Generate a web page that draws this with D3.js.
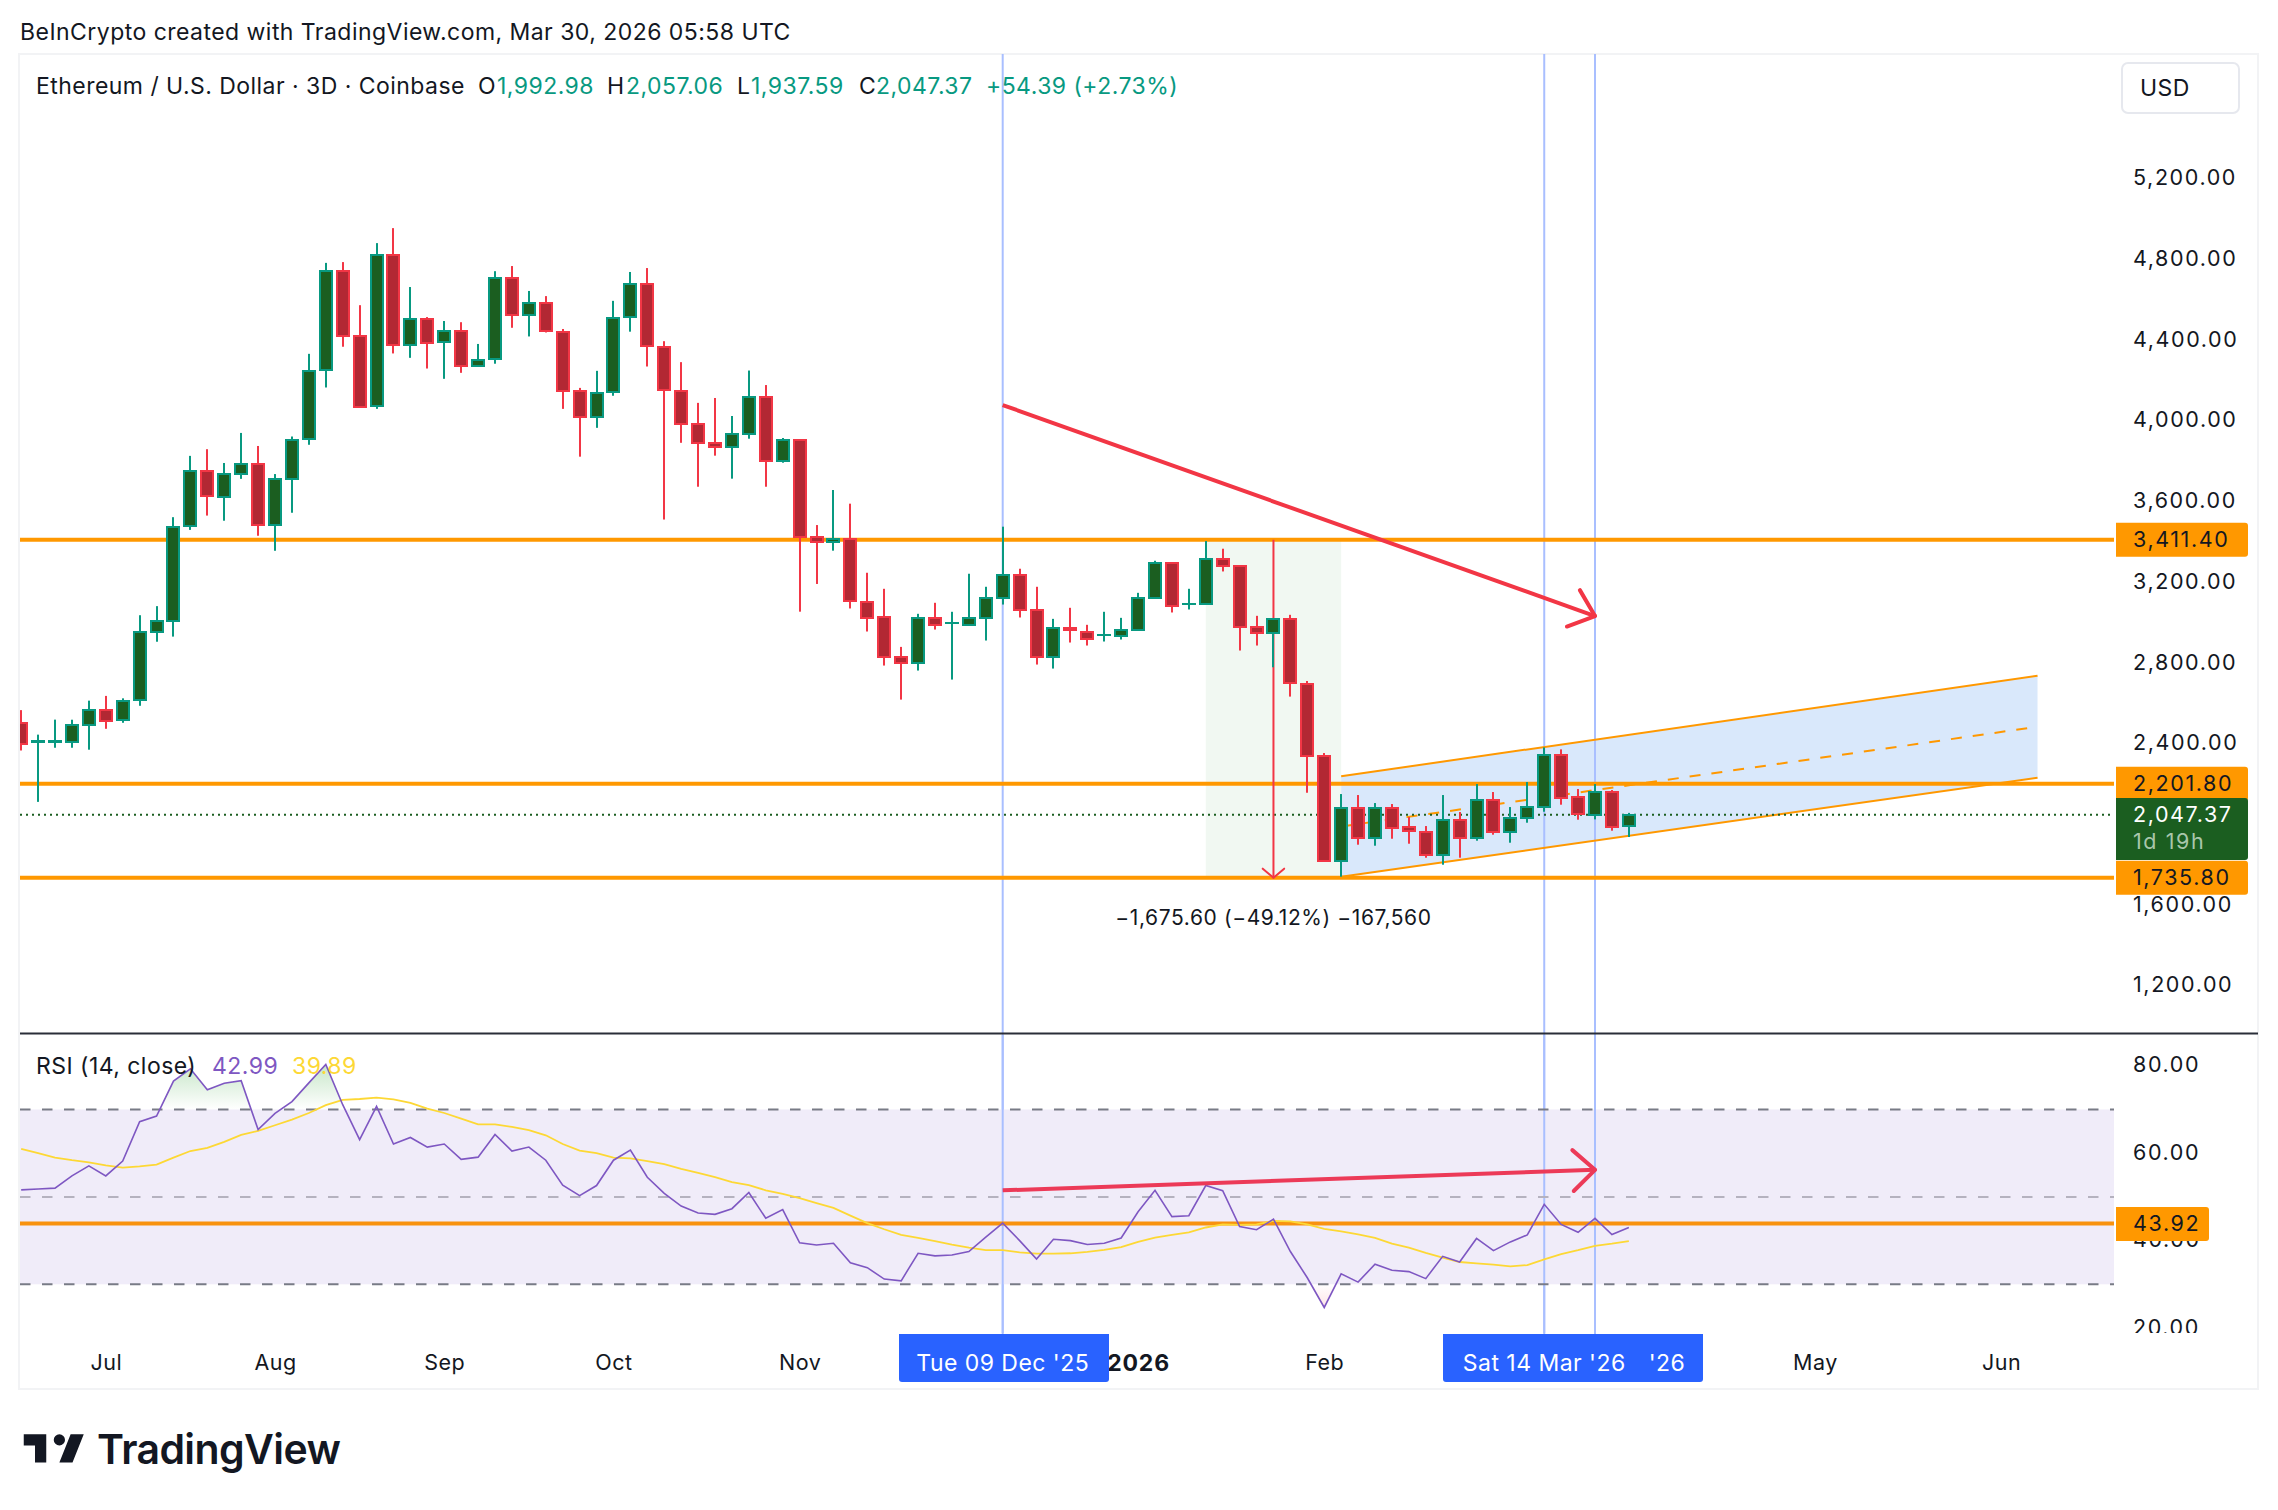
<!DOCTYPE html>
<html>
<head>
<meta charset="utf-8">
<title>ETH/USD</title>
<script src="https://cdn.jsdelivr.net/npm/d3@7.9.0/dist/d3.min.js"></script>
<style>
  html, body { margin: 0; background: #fff; }
  svg { display: block; font-family: Inter, "Noto Sans", sans-serif; }
  text { fill: #131722; }
</style>
</head>
<body>
<svg id="chart" width="2278" height="1510"></svg>
<script>
// bars are 3D candles
const opens = [2503.8,2411.6,2411.6,2411.6,2495.9,2568,2515.5,2615.5,2956.6,3011.5,
  3478,3752.5,3627,3740.7,3787.8,3484,3715,3909,4252.4,4744.5,
  4423,4072,4822.9,4376,4507,4389.6,4446.5,4272,4305,4709,
  4525,4585.7,4442.7,4148.5,4019,4142.6,4515,4679.8,4368,4148.5,
  3983,3889,3867.6,3932,4117,3798,3904,3423,3398,3414.7,
  3105,3027.5,2829,2799,3022.5,2994.4,2986,3022.5,3121.8,3234.3,
  3062,2829,2972.9,2956.3,2936.4,2933,2963,3121.8,3295.5,3093.6,
  3093.6,3315.4,3280.6,2977.8,2948,3015.9,2697.5,2340.6,1821.7,2082.8,
  1935.7,2082.8,1985.3,1963.8,1851.5,2023.3,1935.7,2122.4,1963.8,2033.2,
  2087.7,2345.5,2134,2049.7,2162,1992.98];
const highs = [2566.5,2445,2519.4,2519,2613.5,2637,2625,3037,3082,3523,
  3827,3860,3791.7,3940.7,3876,3736.8,3923,4332.8,4783.7,4787.6,
  4574,4881.7,4956,4664,4515,4495.5,4489.6,4381.8,4742.5,4768,
  4644.5,4619,4456,4164,4248.5,4595.5,4738.6,4758,4395.5,4291.6,
  4089.7,4113.9,4024.6,4250,4178,3915.6,3909,3484,3657.8,3590,
  3247.5,3168,2880,3044,3098.6,3054,3242.6,3178,3475.9,3267.4,
  3178,3019,3073.8,2989.4,3054,3024,3148,3307,3295.5,3168,
  3404.7,3366.7,3282,3034,3017.5,3039,2711,2353.8,2150.5,2145.6,
  2105.9,2101,2036.5,1991.9,2145.6,2061.3,2200,2160.5,2086,2210,
  2381.9,2372,2175.3,2200,2170.4,2057.06];
const lows = [2366.5,2111.7,2380,2380,2370.4,2474,2503.8,2588,2905.6,2931,
  3460,3531,3505.5,3713,3431,3356.5,3545,3882,4166,4368,
  4066,4060,4334.8,4313,4260,4209,4238.7,4272,4283.8,4462,
  4419,4438.7,4060,3823,3966,4125,4442.7,4270,3511.4,3891.8,
  3674,3828,3714,3912,3674,3793,3054.6,3192,3357,3070.5,
  2956.3,2787.5,2618.7,2762.7,2966,2718,2986,2911.6,3090,3025.8,
  2792.5,2772.6,2901.7,2886.8,2906.7,2916.6,2963,3121.8,3050.6,3065.5,
  3093.6,3254,2862,2886.8,2779,2633.6,2157,1815,1740.7,1899.4,
  1894.4,1929,1904.3,1834.9,1800.2,1834.9,1919.2,1949,1909.3,2008.4,
  2062.9,2097.7,2023.3,2024.9,1968.8,1937.59];
const closes = [2401.8,2415.6,2415.6,2494,2568.4,2515.5,2611.6,2954.6,3009.5,3476,
  3752.5,3627,3739,3787.8,3484,3713,3907,4248.5,4744.5,4421,
  4072,4822.9,4376,4507,4389.6,4446.5,4272,4303,4709,4525,
  4585.7,4444.6,4152.4,4019,4138.7,4511,4679.8,4370,4152.4,3984,
  3889.8,3867.6,3933.8,4117,3798,3904,3421.5,3398,3414.8,3106.9,
  3027.5,2829,2799,3022.5,2987.8,2996,3022.5,3121.8,3234.3,3062,
  2829,2972.9,2961.3,2923,2938,2963,3121.8,3295.5,3082,3095,
  3315.4,3280.6,2977.8,2948,3015.9,2699.8,2342,1821.7,2082.8,1935.7,
  2082.8,1985.3,1963.8,1851.5,2023.3,1935.7,2122.4,1963.8,2033.2,2087.7,
  2345.5,2134,2049.7,2162,1990.3,2047.37];

const rsiValues = [51.6,51.8,52.0,54.8,57.1,54.8,58.2,67.2,68.5,76.5,79.3,74.5,76.0,76.6,65.4,69.1,
  71.8,76.1,80.3,71.1,63.1,70.7,62.1,63.6,61.4,62.1,58.6,59.1,64.3,60.5,61.4,58.4,
  52.7,50.3,52.6,58.4,60.7,54.5,50.8,47.9,46.3,46.0,47.3,51.0,45.1,47.1,39.5,
  39.0,39.4,34.9,33.8,31.2,30.8,37.1,36.5,36.7,37.5,40.8,44.0,40.0,35.8,40.3,40.0,
  39.1,39.4,40.6,46.6,51.5,45.5,45.7,52.6,51.4,43.2,42.5,44.9,37.5,31.5,24.7,32.4,
  30.5,34.6,33.2,32.9,31.3,36.4,35.1,40.5,37.7,39.7,41.3,48.3,43.7,41.9,45.1,41.4,42.99];
const rsiMa = [61.0,60.0,59.0,58.4,57.9,57.2,56.7,57.0,57.4,59.0,60.5,61.2,62.6,64.2,65.1,66.4,
  67.7,69.2,71.0,72.2,72.4,72.7,72.3,71.5,70.2,69.2,67.9,66.6,66.6,66.0,65.3,64.1,
  62.1,60.6,60.0,59.0,58.8,58.2,57.5,56.4,55.5,54.5,53.4,52.7,51.5,50.7,49.7,
  48.6,47.5,45.7,44.0,42.6,41.3,40.6,39.9,39.1,38.4,37.8,37.8,37.3,37.0,37.0,37.1,
  37.4,37.9,38.5,39.7,40.7,41.3,41.9,43.0,43.7,43.6,43.7,44.5,44.4,43.7,42.7,42.1,
  41.4,40.6,39.3,38.4,37.2,36.1,35.1,34.8,34.5,34.1,34.4,35.7,36.9,37.8,38.8,39.3,39.89];

const priceTicks = [1200,1600,2400,2800,3200,3600,4000,4400,4800,5200];
const rsiTicks = [20,40,60,80];
const timeTickBars = [5,15,25,35,46,66,77,106,117];
const timeTickLabels = ['Jul','Aug','Sep','Oct','Nov','2026','Feb','May','Jun'];
const priceLevels = [3411.4,2201.8,1735.8];
const lastPrice = 2047.37;
const rsiLevel = 43.92;
const markerBars = [58,90,93];
const channelBars = [78,119.15];
const channelTop = [2238.5,2737];
const channelBottom = [1740.8,2231.5];
const trendBars = [58,93];
const trendPrices = [4079,3033];
const rsiTrendBars = [58,93];
const rsiTrendValues = [51.5,56.2];
const measureBar = 74;
const measureZoneBars = [70,78];

const teal = '#089981';
const red = '#f23645';
const orange = '#ff9800';
const markerBlue = '#a9bfff';
const paneLeft = 20;
const paneRight = 2114;
const textSpacing = 0.46;

const svg = d3.select('#chart');

const x = d3.scaleLinear().domain([58,93]).range([1002.7,1595]);
const y = d3.scaleLinear().domain([1735.8,3411.4]).range([877.7,539.7]);
const yRsi = d3.scaleLinear().domain([30,70]).range([1284.3,1109.5]);

const defs = svg.append('defs');
defs.append('clipPath').attr('id','pricePane').append('rect')
  .attr('x',paneLeft).attr('y',55).attr('width',paneRight-paneLeft).attr('height',977);
defs.append('clipPath').attr('id','rsiPane').append('rect')
  .attr('x',paneLeft).attr('y',1035).attr('width',paneRight-paneLeft).attr('height',298);
defs.append('clipPath').attr('id','rsiAxis').append('rect')
  .attr('x',paneRight).attr('y',1035).attr('width',140).attr('height',298);
defs.append('clipPath').attr('id','overbought').append('rect')
  .attr('x',paneLeft).attr('y',1035).attr('width',paneRight-paneLeft).attr('height',yRsi(70)-1035);
defs.append('clipPath').attr('id','oversold').append('rect')
  .attr('x',paneLeft).attr('y',yRsi(30)).attr('width',paneRight-paneLeft).attr('height',60);

const greenFade = defs.append('linearGradient').attr('id','greenFade')
  .attr('gradientUnits','userSpaceOnUse').attr('x1',0).attr('x2',0).attr('y1',yRsi(80)).attr('y2',yRsi(70));
greenFade.append('stop').attr('offset',0).attr('stop-color','#4caf50').attr('stop-opacity',0.3);
greenFade.append('stop').attr('offset',1).attr('stop-color','#4caf50').attr('stop-opacity',0);
const redFade = defs.append('linearGradient').attr('id','redFade')
  .attr('gradientUnits','userSpaceOnUse').attr('x1',0).attr('x2',0).attr('y1',yRsi(30)).attr('y2',yRsi(20));
redFade.append('stop').attr('offset',0).attr('stop-color','#f23645').attr('stop-opacity',0);
redFade.append('stop').attr('offset',1).attr('stop-color','#f23645').attr('stop-opacity',0.25);

// frame
svg.append('rect').attr('x',19).attr('y',54).attr('width',2239).attr('height',1335)
  .attr('fill','#fff').attr('stroke','#f2f3f5').attr('stroke-width',2);

function arrowHead(g, xTip, yTip, angle, color, len, spread, width) {
  [-1,1].forEach((side) => {
    const a = angle + Math.PI + side * spread;
    g.append('line')
      .attr('x1',xTip).attr('y1',yTip)
      .attr('x2',xTip + len * Math.cos(a)).attr('y2',yTip + len * Math.sin(a))
      .attr('stroke',color).attr('stroke-width',width).attr('stroke-linecap','round');
  });
}

// price pane, back layer
const priceBack = svg.append('g').attr('clip-path','url(#pricePane)');

priceBack.append('rect')
  .attr('x',x(measureZoneBars[0])).attr('y',y(priceLevels[0]))
  .attr('width',x(measureZoneBars[1])-x(measureZoneBars[0]))
  .attr('height',y(priceLevels[2])-y(priceLevels[0]))
  .attr('fill','#f1f8f2');

const channelBand = d3.area()
  .x((d) => x(d.bar)).y0((d) => y(d.bottom)).y1((d) => y(d.top));
const channelData = channelBars.map((bar,i) => ({bar, top:channelTop[i], bottom:channelBottom[i]}));
priceBack.append('path').attr('d',channelBand(channelData)).attr('fill','#d9e8fb');

const markers = svg.append('g');
markerBars.forEach((bar) => {
  markers.append('line')
    .attr('x1',x(bar)).attr('x2',x(bar)).attr('y1',54).attr('y2',1334)
    .attr('stroke',markerBlue).attr('stroke-width',2);
});

const pricePane = svg.append('g').attr('clip-path','url(#pricePane)');

const priceLine = d3.line().x((d) => x(d[0])).y((d) => y(d[1]));
pricePane.append('path')
  .attr('d',priceLine(channelBars.map((b,i) => [b,channelTop[i]])))
  .attr('stroke',orange).attr('stroke-width',2).attr('fill','none');
pricePane.append('path')
  .attr('d',priceLine(channelBars.map((b,i) => [b,channelBottom[i]])))
  .attr('stroke',orange).attr('stroke-width',2).attr('fill','none');
pricePane.append('path')
  .attr('d',priceLine(channelBars.map((b,i) => [b,(channelTop[i]+channelBottom[i])/2])))
  .attr('stroke',orange).attr('stroke-width',2).attr('fill','none').attr('stroke-dasharray','11 11');

pricePane.append('line')
  .attr('x1',paneLeft).attr('x2',paneRight-3).attr('y1',y(lastPrice)).attr('y2',y(lastPrice))
  .attr('stroke','#1b5e20').attr('stroke-width',2).attr('stroke-dasharray','2 4');

priceLevels.forEach((level) => {
  pricePane.append('line')
    .attr('x1',paneLeft).attr('x2',paneRight).attr('y1',y(level)).attr('y2',y(level))
    .attr('stroke',orange).attr('stroke-width',4);
});

// measure arrow
pricePane.append('line')
  .attr('x1',x(measureBar)).attr('x2',x(measureBar))
  .attr('y1',y(priceLevels[0])).attr('y2',y(priceLevels[2]))
  .attr('stroke',red).attr('stroke-width',2);
arrowHead(pricePane, x(measureBar), y(priceLevels[2]), Math.PI/2, red, 14, 0.87, 2);

// trend arrow
const trendStart = [x(trendBars[0]),y(trendPrices[0])];
const trendEnd = [x(trendBars[1]),y(trendPrices[1])];
pricePane.append('line')
  .attr('x1',trendStart[0]).attr('y1',trendStart[1]).attr('x2',trendEnd[0]).attr('y2',trendEnd[1])
  .attr('stroke',red).attr('stroke-width',4);
arrowHead(pricePane, trendEnd[0], trendEnd[1],
  Math.atan2(trendEnd[1]-trendStart[1],trendEnd[0]-trendStart[0]), red, 30, 0.7, 4);

// candles
const bars = opens.map((open,i) => ({i, open, high:highs[i], low:lows[i], close:closes[i], up:closes[i] >= open}));
const candles = pricePane.append('g').selectAll('g').data(bars).join('g');
const xBar = (d) => Math.round(x(d.i));
candles.append('rect')
  .attr('x',(d) => xBar(d)-1).attr('width',2)
  .attr('y',(d) => y(d.high)).attr('height',(d) => y(d.low)-y(d.high))
  .attr('fill',(d) => d.up ? teal : red);
const bodyTop = (d) => Math.round(y(Math.max(d.open,d.close))-1);
const bodyHeight = (d) => Math.max(2,Math.round(Math.abs(y(d.open)-y(d.close))+2));
candles.append('rect')
  .attr('x',(d) => xBar(d)-7).attr('width',14)
  .attr('y',bodyTop).attr('height',bodyHeight)
  .attr('fill',(d) => d.up ? teal : red);
candles.filter((d) => bodyHeight(d) > 4).append('rect')
  .attr('x',(d) => xBar(d)-5).attr('width',10)
  .attr('y',(d) => bodyTop(d)+2).attr('height',(d) => bodyHeight(d)-4)
  .attr('fill',(d) => d.up ? '#1b5e20' : '#b22833');

svg.append('text').attr('x',x(measureBar)).attr('y',925).attr('text-anchor','middle')
  .attr('font-size',21).attr('letter-spacing',0.6).text('\u22121,675.60 (\u221249.12%) \u2212167,560');

// pane divider
svg.append('line').attr('x1',20).attr('x2',2258).attr('y1',1033.5).attr('y2',1033.5)
  .attr('stroke','#2a2e39').attr('stroke-width',2);

// rsi pane
const rsiPane = svg.append('g').attr('clip-path','url(#rsiPane)');
rsiPane.append('rect')
  .attr('x',paneLeft).attr('width',paneRight-paneLeft)
  .attr('y',yRsi(70)).attr('height',yRsi(30)-yRsi(70))
  .attr('fill','#f0ecf9');
markerBars.forEach((bar) => {
  rsiPane.append('line').attr('x1',x(bar)).attr('x2',x(bar)).attr('y1',1035).attr('y2',1334)
    .attr('stroke',markerBlue).attr('stroke-width',2);
});
[[70,'#787b86'],[50,'#b5b2bf'],[30,'#787b86']].forEach(([level,color]) => {
  rsiPane.append('line')
    .attr('x1',paneLeft).attr('x2',paneRight).attr('y1',yRsi(level)).attr('y2',yRsi(level))
    .attr('stroke',color).attr('stroke-width',2).attr('stroke-dasharray','10.5 11.5');
});
const rsiArea = (limit) => d3.area().x((d,i) => x(i)).y0(yRsi(limit)).y1((d) => yRsi(d));
rsiPane.append('g').attr('clip-path','url(#overbought)').append('path')
  .attr('d',rsiArea(70)(rsiValues)).attr('fill','url(#greenFade)');
rsiPane.append('g').attr('clip-path','url(#oversold)').append('path')
  .attr('d',rsiArea(30)(rsiValues)).attr('fill','url(#redFade)');

rsiPane.append('line')
  .attr('x1',paneLeft).attr('x2',paneRight).attr('y1',yRsi(rsiLevel)).attr('y2',yRsi(rsiLevel))
  .attr('stroke','#f8920f').attr('stroke-width',4);

const rsiLine = d3.line().x((d,i) => x(i)).y((d) => yRsi(d));
rsiPane.append('path').attr('d',rsiLine(rsiMa)).attr('fill','none')
  .attr('stroke','#fdd835').attr('stroke-width',1.8);
rsiPane.append('path').attr('d',rsiLine(rsiValues)).attr('fill','none')
  .attr('stroke','#7e57c2').attr('stroke-width',1.6);

const rsiStart = [x(rsiTrendBars[0]),yRsi(rsiTrendValues[0])];
const rsiEnd = [x(rsiTrendBars[1]),yRsi(rsiTrendValues[1])];
rsiPane.append('line')
  .attr('x1',rsiStart[0]).attr('y1',rsiStart[1]).attr('x2',rsiEnd[0]).attr('y2',rsiEnd[1])
  .attr('stroke','#ec3a58').attr('stroke-width',4);
arrowHead(rsiPane, rsiEnd[0], rsiEnd[1],
  Math.atan2(rsiEnd[1]-rsiStart[1],rsiEnd[0]-rsiStart[0]), '#ec3a58', 30, 0.75, 4);

// axes
const axisFont = 21.5;
const axisSpacing = 1.6;
const priceAxis = d3.axisRight(y).tickValues(priceTicks).tickSize(0).tickPadding(0).tickFormat(d3.format(',.2f'));
const gPrice = svg.append('g').attr('transform','translate(2133,0)').call(priceAxis);
gPrice.select('.domain').remove();
gPrice.selectAll('text').attr('font-size',axisFont).attr('font-family','Inter').attr('letter-spacing',axisSpacing)
  .attr('fill','#131722').attr('dy','0.28em');

const rsiAxis = d3.axisRight(yRsi).tickValues(rsiTicks).tickSize(0).tickPadding(0).tickFormat(d3.format('.2f'));
const gRsi = svg.append('g').attr('clip-path','url(#rsiAxis)').append('g').attr('transform','translate(2133,0)').call(rsiAxis);
gRsi.select('.domain').remove();
gRsi.selectAll('text').attr('font-size',axisFont).attr('font-family','Inter').attr('letter-spacing',axisSpacing)
  .attr('fill','#131722').attr('dy','0.28em');

const timeAxis = d3.axisBottom(x).tickValues(timeTickBars).tickSize(0).tickPadding(0)
  .tickFormat((d,i) => timeTickLabels[i]);
const gTime = svg.append('g').attr('transform','translate(0,1354.5)').call(timeAxis);
gTime.select('.domain').remove();
gTime.selectAll('text').attr('font-family','Inter').attr('fill','#131722')
  .attr('font-size',(d,i) => timeTickLabels[i] === '2026' ? 23 : axisFont)
  .attr('letter-spacing',(d,i) => timeTickLabels[i] === '2026' ? 0.8 : 0.5)
  .attr('font-weight',(d,i) => timeTickLabels[i] === '2026' ? 700 : 400);

// price tags
function priceTag(yCenter, top, height, color, label, textColor, left, right) {
  const g = svg.append('g');
  g.append('path')
    .attr('d',`M${left},${top}H${right-3}a3,3 0 0 1 3,3V${top+height-3}a3,3 0 0 1 -3,3H${left}Z`)
    .attr('fill',color);
  g.append('text').attr('x',2133).attr('y',yCenter+7.5).attr('font-size',axisFont).attr('letter-spacing',axisSpacing)
    .style('fill',textColor).text(label);
}
priceLevels.forEach((level) => {
  priceTag(y(level), y(level)-17, 34, orange, d3.format(',.2f')(level), '#131722', 2116, 2248);
});
const lastTop = 798;
svg.append('path')
  .attr('d',`M2116,${lastTop}H2245a3,3 0 0 1 3,3V${lastTop+59}a3,3 0 0 1 -3,3H2116Z`)
  .attr('fill','#1b5e20');
svg.append('text').attr('x',2133).attr('y',821.5).attr('font-size',axisFont).attr('letter-spacing',axisSpacing)
  .style('fill','#fff').text(d3.format(',.2f')(lastPrice));
svg.append('text').attr('x',2133).attr('y',849).attr('font-size',axisFont).attr('letter-spacing',axisSpacing)
  .style('fill','#a9c6ab').text('1d 19h');
priceTag(yRsi(rsiLevel), 1207, 34, orange, d3.format('.2f')(rsiLevel), '#131722', 2116, 2209);

// time tags
function timeTag(left, right) {
  svg.append('path')
    .attr('d',`M${left},1334H${right}V1379a3,3 0 0 1 -3,3H${left+3}a3,3 0 0 1 -3,-3Z`)
    .attr('fill','#2962ff');
}
function timeTagText(xCenter, label) {
  svg.append('text').attr('x',xCenter).attr('y',1371).attr('text-anchor','middle')
    .attr('font-size',23).attr('letter-spacing',textSpacing).style('fill','#fff').text(label);
}
timeTag(899,1109);
timeTagText(x(markerBars[0]),"Tue 09 Dec '25");
timeTag(1443,1703);
timeTagText(x(markerBars[1]),"Sat 14 Mar '26");
timeTagText(1667,"'26");

// legends
const titleParts = [
  ['Ethereum / U.S. Dollar \u00b7 3D \u00b7 Coinbase',36,'#131722'],
  ['O',478,'#131722'],['1,992.98',497,teal],
  ['H',607,'#131722'],['2,057.06',626,teal],
  ['L',737,'#131722'],['1,937.59',751,teal],
  ['C',859,'#131722'],['2,047.37',876,teal],
  ['+54.39 (+2.73%)',986,teal]];
titleParts.forEach(([label,left,color]) => {
  svg.append('text').attr('x',left).attr('y',94).attr('font-size',23).attr('letter-spacing',textSpacing)
    .style('fill',color).text(label);
});
const rsiParts = [['RSI (14, close)',36,'#131722'],['42.99',212,'#7e57c2'],['39.89',292,'#fdd835']];
rsiParts.forEach(([label,left,color]) => {
  svg.append('text').attr('x',left).attr('y',1074).attr('font-size',23).attr('letter-spacing',textSpacing)
    .style('fill',color).text(label);
});

svg.append('text').attr('x',20).attr('y',40).attr('font-size',23).attr('letter-spacing',textSpacing)
  .text('BeInCrypto created with TradingView.com, Mar 30, 2026 05:58 UTC');

// currency button
svg.append('rect').attr('x',2122).attr('y',63).attr('width',117).attr('height',50).attr('rx',6)
  .attr('fill','#fff').attr('stroke','#e6e8ee').attr('stroke-width',2);
svg.append('text').attr('x',2140).attr('y',96).attr('font-size',23).attr('letter-spacing',textSpacing).text('USD');

// logo
svg.append('path')
  .attr('transform','translate(20,1423) scale(1.875)')
  .attr('d','M14 6H2v6h6v9h6V6zm14 15h-7l6-15h7l-6 15zm-7-9a3 3 0 1 0 0-6 3 3 0 0 0 0 6z')
  .attr('fill','#131722');
svg.append('text').attr('x',97).attr('y',1464).attr('font-size',41).attr('font-weight',600)
  .attr('letter-spacing',-0.6).text('TradingView');
</script>
</body>
</html>
